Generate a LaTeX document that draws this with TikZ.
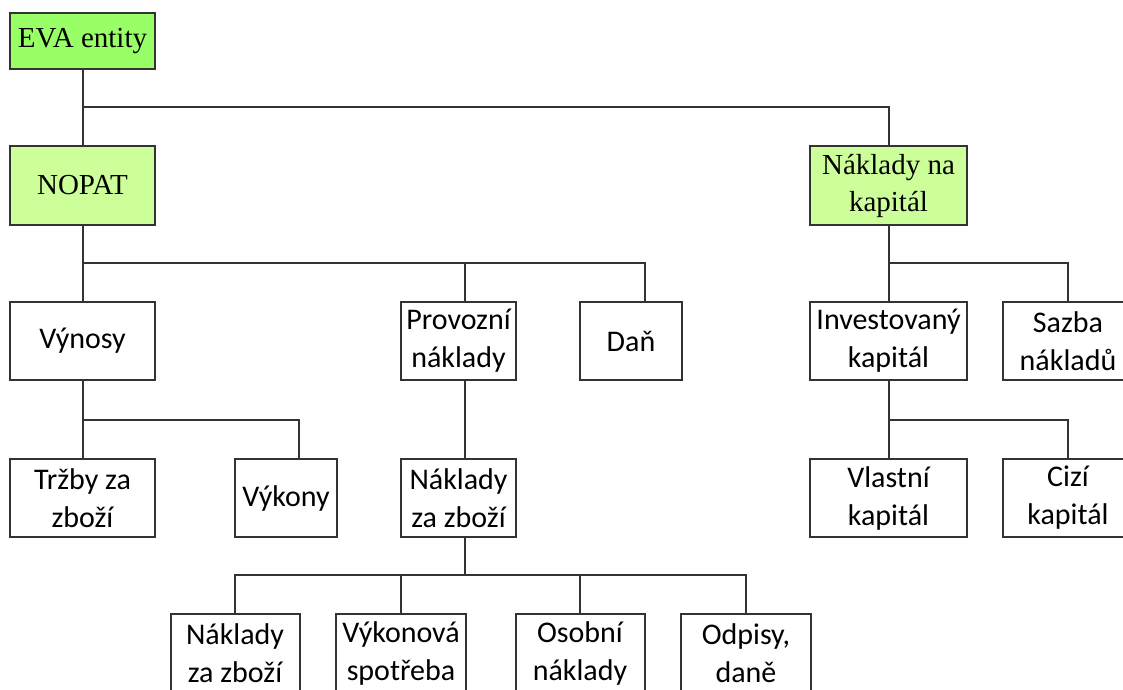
\documentclass[tikz,border=0pt]{standalone}
\usepackage{fontspec}
\setmainfont{Liberation Serif}
\newfontfamily\calib{Carlito}
\definecolor{evagreen}{HTML}{99FF66}
\definecolor{lightgreen}{HTML}{CCFF99}
\definecolor{linegray}{HTML}{333333}

\begin{document}
\begin{tikzpicture}[x=1pt,y=-1pt,
  box/.style={draw=linegray, line width=2pt, inner sep=0pt, align=center,
    minimum height=78pt, text=black},
  topbox/.style={box, font=\fontsize{29}{37}\selectfont},
  subbox/.style={box, fill=white, font=\calib\fontsize{30}{38}\selectfont},
  link/.style={draw=linegray, line width=2pt}]

\useasboundingbox (0,0) rectangle (1123,689);
\clip (0,0) rectangle (1123,689);

% level 0 and 1
\node[topbox, fill=evagreen, minimum width=145pt, minimum height=56pt] (eva) at (82.5,41) {EVA entity};
\node[topbox, fill=lightgreen, minimum width=145pt, minimum height=79pt] (nopat) at (82.5,185.5) {NOPAT};
\node[topbox, fill=lightgreen, minimum width=157pt, minimum height=79pt] (kap) at (888.5,185.5) {Náklady na\\kapitál};

% level 2
\node[subbox, minimum width=145pt] (vyn) at (82.5,341) {Výnosy};
\node[subbox, minimum width=115pt] (prov) at (458.5,341) {Provozní\\náklady};
\node[subbox, minimum width=102pt] (dan) at (631,341) {Daň};
\node[subbox, minimum width=157pt] (inv) at (888.5,341) {Investovaný\\kapitál};
\node[subbox, minimum width=130pt] (saz) at (1068,341) {Sazba\\nákladů};

% level 3
\node[subbox, minimum width=145pt] (trz) at (82.5,498) {Tržby za\\zboží};
\node[subbox, minimum width=102pt] (vyk) at (286,498) {Výkony};
\node[subbox, minimum width=115pt] (nzb) at (458.5,498) {Náklady\\za zboží};
\node[subbox, minimum width=157pt] (vla) at (888.5,498) {Vlastní\\kapitál};
\node[subbox, minimum width=130pt] (ciz) at (1068,498) {Cizí\\kapitál};

% level 4
\node[subbox, minimum width=129pt] (nz2) at (235,653) {Náklady\\za zboží};
\node[subbox, minimum width=130pt] (vsp) at (401,653) {Výkonová\\spotřeba};
\node[subbox, minimum width=129pt] (oso) at (580,653) {Osobní\\náklady};
\node[subbox, minimum width=130pt] (odp) at (746,653) {Odpisy,\\daně};

% bus points
\coordinate (b0) at (83,107);
\coordinate (b1) at (83,263);
\coordinate (b2) at (888,263);
\coordinate (b3) at (83,420);
\coordinate (b4) at (888,420);
\coordinate (b5) at (465,575);

% connectors
\draw[link] (eva.south) -- (nopat.north);
\draw[link] (b0) -| (kap.north);

\draw[link] (nopat.south) -- (vyn.north);
\draw[link] (b1) -| ([xshift=6.5pt]prov.north);
\draw[link] (b1) -| ([xshift=14pt]dan.north);

\draw[link] (kap.south) -- (inv.north);
\draw[link] (b2) -| (saz.north);

\draw[link] (vyn.south) -- (trz.north);
\draw[link] (b3) -| ([xshift=13pt]vyk.north);

\draw[link] ([xshift=6.5pt]prov.south) -- ([xshift=6.5pt]nzb.north);

\draw[link] (inv.south) -- (vla.north);
\draw[link] (b4) -| (ciz.north);

\draw[link] ([xshift=6.5pt]nzb.south) -- (b5);
\draw[link] (b5) -| (nz2.north);
\draw[link] (b5) -| (vsp.north);
\draw[link] (b5) -| (oso.north);
\draw[link] (b5) -| (odp.north);
\end{tikzpicture}
\end{document}
